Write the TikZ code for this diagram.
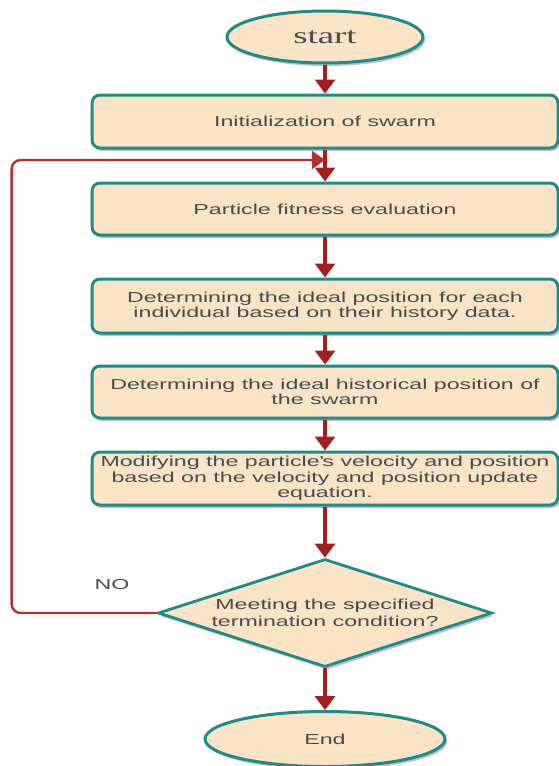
\documentclass[tikz,border=0pt]{standalone}
\usepackage{fontspec}
\setmainfont{Liberation Sans}[FakeStretch=1.6]
\newfontfamily\serifstart{Liberation Serif}[FakeStretch=1.6]
\usepackage{xcolor}
\definecolor{peach}{RGB}{250,228,197}
\definecolor{tealedge}{RGB}{28,140,136}
\definecolor{flowred}{RGB}{165,30,30}
\definecolor{loopred}{RGB}{185,45,45}
\definecolor{inkgray}{RGB}{70,75,80}
\usepackage{tikz}
\usetikzlibrary{arrows.meta,shapes.geometric,shadows}

\begin{document}
\begin{tikzpicture}[x=1pt, y=-1pt,
    shade box/.style={drop shadow={shadow xshift=2pt, shadow yshift=-3pt, fill=blue!30!black, opacity=0.25}},
    terminal/.style={ellipse, draw=tealedge, line width=3pt, fill=peach, shade box, inner sep=0pt, text=inkgray},
    stepbox/.style={rectangle, rounded corners=8pt, draw=tealedge, line width=3pt, fill=peach, shade box,
        minimum width=466pt, align=center, inner sep=2pt, text=inkgray,
        font=\fontsize{14.5}{15.5}\selectfont},
    decision/.style={diamond, aspect=3.1, draw=tealedge, line width=2.8pt, fill=peach, shade box,
        minimum width=334pt, minimum height=108pt, inner sep=0pt, align=center, text=inkgray,
        font=\fontsize{14.5}{16.5}\selectfont},
    flow/.style={line width=3.2pt, flowred, -{Triangle[width=20pt, length=14pt]}},
    back/.style={line width=2.4pt, loopred, rounded corners=9pt, -{Triangle[width=18pt, length=13pt]}}]
    \useasboundingbox (0,0) rectangle (558,766);

    % Terminals
    \node[terminal, minimum width=196pt, minimum height=52pt, font=\serifstart\fontsize{23}{23}\selectfont] (start) at (325,37) {start};
    \node[terminal, minimum width=240pt, minimum height=55pt, font=\fontsize{14.5}{15.5}\selectfont] (end) at (325,739) {End};

    % Process steps
    \node[stepbox, minimum height=53pt] (init) at (325,121.5) {Initialization of swarm};
    \node[stepbox, minimum height=52pt] (fit) at (325,209) {Particle fitness evaluation};
    \node[stepbox, minimum height=54pt] (pbest) at (325,306) {Determining the ideal position for each\\individual based on their history data.};
    \node[stepbox, minimum height=52pt] (gbest) at (325,392) {Determining the ideal historical position of\\the swarm};
    \node[stepbox, minimum height=53pt] (update) at (325,478.5) {Modifying the particle\textquotesingle s velocity and position\\based on the velocity and position update\\equation.};

    % Termination test
    \node[decision] (check) at (325,613) {Meeting the specified\\termination condition?};

    % Main flow
    \draw[flow] (start) -- (init);
    \draw[flow] (init) -- (fit);
    \draw[flow] (fit) -- (pbest);
    \draw[flow] (pbest) -- (gbest);
    \draw[flow] (gbest) -- (update);
    \draw[flow] (update) -- (check);
    \draw[flow] (check) -- (end);

    % Loop back on NO
    \coordinate (merge) at (325,160);
    \draw[back] (check.west) -- ++(-145,0) |- (merge);
    \node[text=inkgray, font=\fontsize{14.5}{15.5}\selectfont] (no) at (112,585) {NO};
\end{tikzpicture}
\end{document}
